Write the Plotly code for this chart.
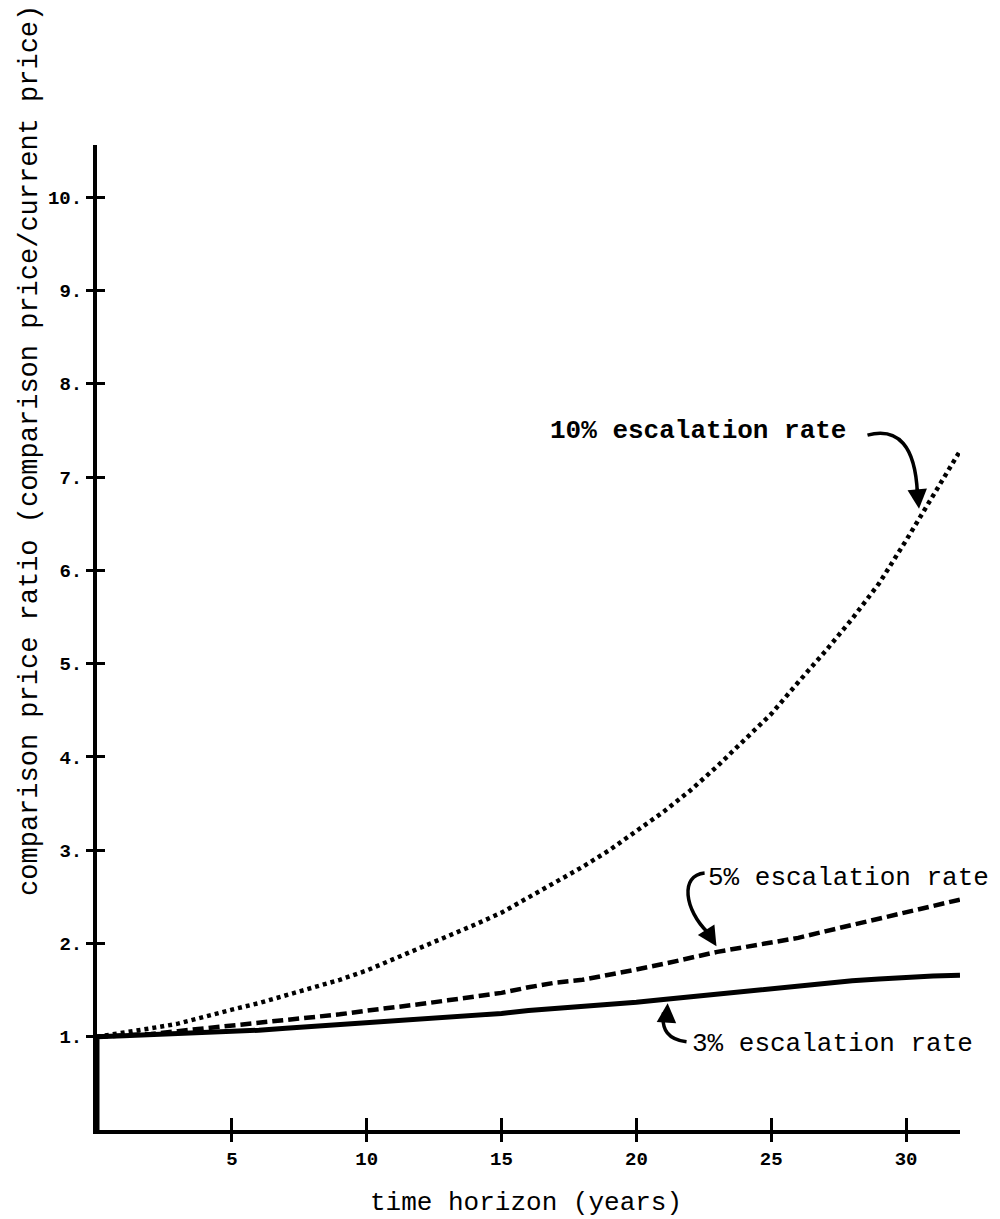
import plotly.graph_objects as go

# ---- data ----
years = list(range(0, 33))
rate10 = [1.00, 1.04, 1.09, 1.14, 1.22, 1.29, 1.36, 1.44, 1.52, 1.61, 1.71,
          1.83, 1.96, 2.08, 2.20, 2.33, 2.49, 2.65, 2.82, 3.00, 3.20,
          3.41, 3.64, 3.90, 4.18, 4.46, 4.80, 5.13, 5.48, 5.86, 6.32,
          6.80, 7.28]
rate5 = [1.00, 1.01, 1.03, 1.06, 1.09, 1.11, 1.14, 1.17, 1.20, 1.24, 1.28,
         1.31, 1.35, 1.39, 1.43, 1.47, 1.53, 1.58, 1.61, 1.66, 1.72,
         1.78, 1.85, 1.91, 1.96, 2.01, 2.06, 2.13, 2.20, 2.27, 2.33,
         2.40, 2.47]
rate3 = [1.00, 1.01, 1.02, 1.03, 1.05, 1.06, 1.07, 1.09, 1.11, 1.13, 1.15,
         1.17, 1.19, 1.20, 1.22, 1.25, 1.28, 1.30, 1.32, 1.34, 1.37,
         1.40, 1.43, 1.46, 1.49, 1.52, 1.54, 1.57, 1.60, 1.62, 1.64,
         1.65, 1.66]
x_ticks = [5, 10, 15, 20, 25, 30]
y_ticks = [1, 2, 3, 4, 5, 6, 7, 8, 9, 10]
y_ticktext = ["1.", "2.", "3.", "4.", "5.", "6.", "7.", "8.", "9.", "10."]
labels = ["10% escalation rate", "5% escalation rate", "3% escalation rate"]

FONT = "Liberation Mono"
X_RANGE = [0, 32]
Y_RANGE = [0, 10.56]

fig = go.Figure()
fig.add_trace(go.Scatter(x=years, y=rate10, mode="lines",
                         line=dict(color="black", width=4.5, dash="4px,4px"),
                         showlegend=False))
fig.add_trace(go.Scatter(x=years, y=rate5, mode="lines",
                         line=dict(color="black", width=4.5, dash="11px,5px"),
                         showlegend=False))
fig.add_trace(go.Scatter(x=[0] + years, y=[0] + rate3, mode="lines",
                         line=dict(color="black", width=5),
                         showlegend=False))
# invisible trace on the overlay axes so they are drawn
fig.add_trace(go.Scatter(x=[None], y=[None], xaxis="x2", yaxis="y2",
                         mode="lines", showlegend=False, hoverinfo="skip"))

fig.update_layout(
    width=1000, height=1219,
    margin=dict(l=97, r=40, t=145, b=89),
    paper_bgcolor="white", plot_bgcolor="white",
    font=dict(family=FONT, color="black"),
    xaxis=dict(range=X_RANGE, tickvals=x_ticks, ticks="outside", ticklen=8,
               tickwidth=3, tickcolor="black", showline=True, linewidth=4,
               linecolor="black", showgrid=False, zeroline=False,
               tickfont=dict(family=FONT, size=19, weight="bold"),
               anchor="y", automargin=False),
    yaxis=dict(range=Y_RANGE, tickvals=y_ticks, ticktext=y_ticktext,
               ticks="outside", ticklen=7, tickwidth=3, tickcolor="black",
               showline=True, linewidth=4, linecolor="black", showgrid=False,
               zeroline=False,
               tickfont=dict(family=FONT, size=19, weight="bold"),
               anchor="x", automargin=False),
    xaxis2=dict(range=X_RANGE, tickvals=x_ticks, ticks="inside", ticklen=12,
                tickwidth=3, tickcolor="black", showticklabels=False,
                showgrid=False, zeroline=False, showline=False,
                overlaying="x", anchor="y2", side="bottom"),
    yaxis2=dict(range=Y_RANGE, tickvals=y_ticks, ticks="inside", ticklen=8,
                tickwidth=3, tickcolor="black", showticklabels=False,
                showgrid=False, zeroline=False, showline=False,
                overlaying="y", anchor="x2", side="left"),
)

# axis titles
fig.add_annotation(text="time horizon (years)", xref="paper", yref="paper",
                   x=0.497, y=-0.074, xanchor="center", yanchor="middle",
                   showarrow=False, font=dict(family=FONT, size=26))
fig.add_annotation(text="comparison price ratio (comparison price/current price)",
                   xref="paper", yref="paper", x=-0.077, y=0.69,
                   xanchor="center", yanchor="middle", textangle=-90,
                   showarrow=False, font=dict(family=FONT, size=27))

# series labels
lab_font = dict(family=FONT, size=26, color="black")
fig.add_annotation(text=labels[0], x=16.72, y=7.49, xanchor="left",
                   yanchor="middle", showarrow=False,
                   font=dict(family=FONT, size=26, color="black", weight="bold"))
fig.add_annotation(text=labels[1], x=22.6, y=2.70, xanchor="left",
                   yanchor="middle", showarrow=False, font=lab_font)
fig.add_annotation(text=labels[2], x=21.97, y=0.92, xanchor="left",
                   yanchor="middle", showarrow=False, font=lab_font)

# curved leader lines
lw = dict(color="black", width=3.5)
fig.add_shape(type="path", path="M 28.57,7.45 Q 30.3,7.58 30.42,6.83",
              line=lw, xref="x", yref="y")
fig.add_shape(type="path", path="M 22.53,2.755 C 21.6,2.73 21.79,2.36 22.64,2.12",
              line=lw, xref="x", yref="y")
fig.add_shape(type="path", path="M 21.86,0.946 Q 20.86,0.98 21.01,1.26",
              line=lw, xref="x", yref="y")

# arrow heads
ah = dict(showarrow=True, arrowhead=2, arrowsize=1.3, arrowwidth=3,
          arrowcolor="black", text="", xref="x", yref="y")
fig.add_annotation(x=30.48, y=6.66, ax=-2, ay=-22, **ah)
fig.add_annotation(x=22.97, y=1.97, ax=-10, ay=-16, **ah)
fig.add_annotation(x=21.16, y=1.36, ax=-1, ay=16, **ah)

fig.write_html("out.html",
               config={"displayModeBar": False},
               post_script="document.body.style.margin='0';"
                           "document.body.style.padding='0';")
